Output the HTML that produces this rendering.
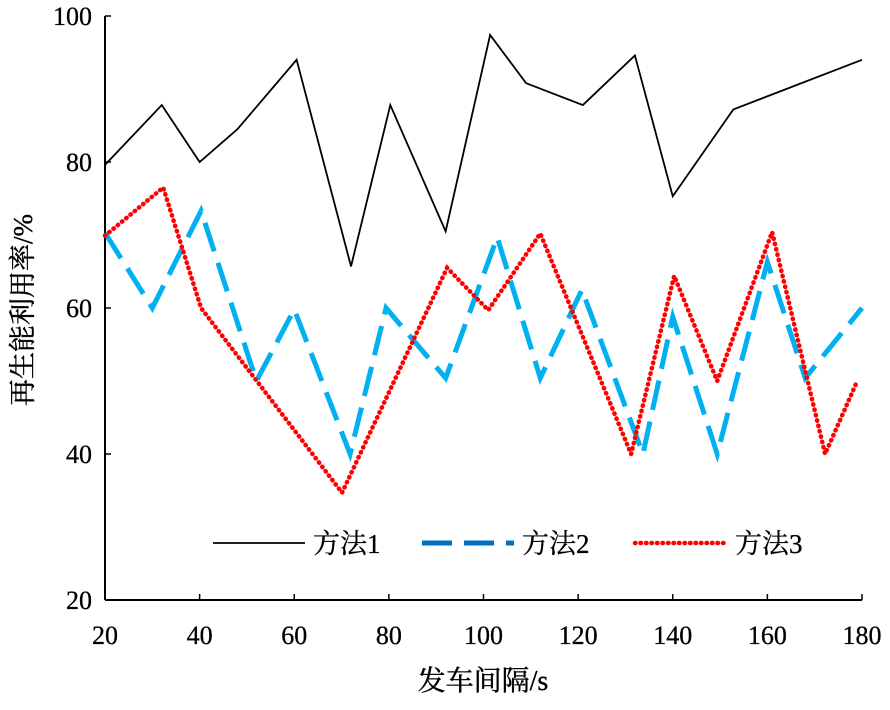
<!DOCTYPE html>
<html><head><meta charset="utf-8"><style>
body{margin:0;background:#fff}
svg text{font-family:"Liberation Serif","Noto Serif CJK SC",serif;fill:#000}
</style></head><body>
<svg id="chart" width="890" height="705">
<g id="axes"></g><g id="series"></g><g id="legend"></g>
<text x="26" y="310" font-size="27" transform="rotate(-90 26 310)" text-anchor="middle" dominant-baseline="middle" stroke="#000" stroke-width="0.4">再生能利用率/%</text>
<text x="483" y="690" font-size="28" text-anchor="middle" stroke="#000" stroke-width="0.4">发车间隔/s</text>
</svg>
<script>
const xTicks=[20,40,60,80,100,120,140,160,180];
const yTicks=[20,40,60,80,100];
const s1x=[20,32,40,48,60.5,72,80.3,92,101.4,109,121,132,140,152.8,180];
const s1y=[79.6,87.8,80,84.5,94,65.7,87.8,70.5,97.4,90.8,87.8,94.6,75.3,87.2,94];
const s2x=[20,30,40.3,52,60,71.8,79.4,92,102.9,112,120.8,133.7,140,149.4,160,168,180];
const s2y=[70.3,60,73.3,50,59.8,40,60,50.4,69.7,50.4,62.5,40,58.8,40,66.3,50.4,60];
const s3x=[20,32.3,40.3,70.1,92.3,101,112,131.2,140.3,149.4,161,172.2,179];
const s3y=[69.9,76.5,60,34.7,65.5,59.7,70.2,40,64.4,50,70.4,40,50];
const NS="http://www.w3.org/2000/svg";
const X=v=>105+(v-20)*757/160;
const Y=v=>16+(100-v)*7.3;
function mk(tag,attrs,parent){const e=document.createElementNS(NS,tag);for(const k in attrs)e.setAttribute(k,attrs[k]);parent.appendChild(e);return e;}
const ax=document.getElementById('axes');
let a=mk('line',{x1:X(20),y1:Y(100),x2:X(20),y2:Y(20),stroke:'#000','stroke-width':2},ax);


a=mk('line',{x1:X(20),y1:Y(20),x2:X(180),y2:Y(20),stroke:'#000','stroke-width':2},ax);


xTicks.forEach(t=>{
 mk('line',{x1:X(t),y1:Y(20),x2:X(t),y2:Y(20)-6,stroke:'#000','stroke-width':1.5},ax);
 const e=mk('text',{x:X(t),y:644,'font-size':26,'text-anchor':'middle',stroke:'#000','stroke-width':0.3},ax);e.textContent=t;
 
 
});
yTicks.forEach(t=>{
 mk('line',{x1:X(20),y1:Y(t),x2:X(20)+6,y2:Y(t),stroke:'#000','stroke-width':1.5},ax);
 const e=mk('text',{x:92,y:Y(t)+9,'font-size':26,'text-anchor':'end',stroke:'#000','stroke-width':0.3},ax);e.textContent=t;
 
 
});
const sg=document.getElementById('series');
function line(xs,ys,st,name){
 const p=mk('polyline',Object.assign({points:xs.map((x,i)=>X(x)+','+Y(ys[i])).join(' '),fill:'none'},st),sg);
 
 
}
const dotSt={stroke:'#ff0000','stroke-width':4.5,'stroke-dasharray':'0.5 5','stroke-linecap':'round'};
line(s2x,s2y,{stroke:'#00b0f0','stroke-width':5,'stroke-dasharray':'30 12'},'series-method-2');
line(s3x,s3y,dotSt,'series-method-3');
line(s1x,s1y,{stroke:'#000','stroke-width':1.8},'series-method-1');
const lg=document.getElementById('legend');
const leg=[['方法1',213,{stroke:'#000','stroke-width':1.8}],['方法2',422,{stroke:'#0070c0','stroke-width':5,'stroke-dasharray':'30 12'}],['方法3',635,dotSt]];
leg.forEach(([n,x,st],i)=>{
 const l=mk('line',Object.assign({x1:x,y1:543,x2:x+92,y2:543},st),lg);
 
 
 const t=mk('text',{x:x+100,y:553,'font-size':27,stroke:'#000','stroke-width':0.3},lg);t.textContent=n;
 
 
});
</script>
</body></html>
